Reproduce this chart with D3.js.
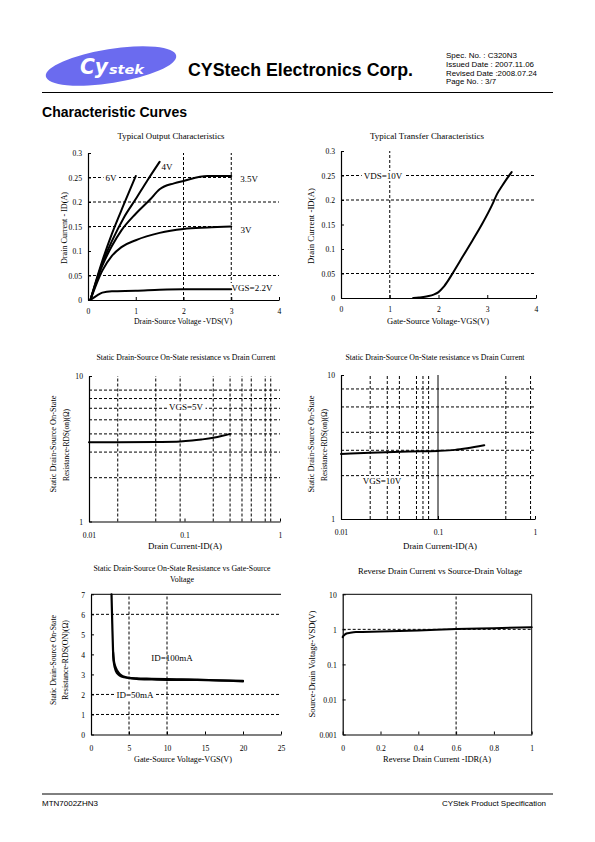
<!DOCTYPE html>
<html><head><meta charset="utf-8">
<script src="https://cdn.jsdelivr.net/npm/d3@7"></script>
<style>body{margin:0;background:#fff}</style>
</head><body>
<svg id="page" width="595" height="842" xmlns="http://www.w3.org/2000/svg"></svg>
<script>
// ---------- DATA ----------
// Chart 1: Typical Output Characteristics  [VDS, ID]
const outXTicks = [0, 1, 2, 3, 4];
const outYTicks = [0, 0.05, 0.1, 0.15, 0.2, 0.25, 0.3];
const outYTickLabels = ["0", "0.05", "0.1", "0.15", "0.2", "0.25", "0.3"];
const outVGS22 = [[0.05,0],[0.2,0.01],[0.3,0.015],[0.5,0.018],[1,0.019],[1.5,0.021],[2,0.022],[3,0.022]];
const outVGS3  = [[0.05,0],[0.3,0.06],[0.5,0.09],[0.7,0.108],[1,0.122],[1.5,0.137],[2,0.145],[2.5,0.148],[3,0.15]];
const outVGS35 = [[0.05,0],[0.3,0.07],[0.5,0.11],[0.7,0.142],[1,0.176],[1.3,0.205],[1.5,0.226],[1.8,0.238],[2,0.243],[2.5,0.253],[3,0.253]];
const outVGS4  = [[0.05,0],[0.3,0.075],[0.5,0.12],[0.75,0.168],[1,0.206],[1.25,0.245],[1.5,0.282]];
const outVGS6  = [[0.05,0],[0.3,0.08],[0.5,0.135],[0.75,0.195],[1,0.253]];
const outSeriesLabels = ["VGS=2.2V", "3V", "3.5V", "4V", "6V"];

// Chart 2: Typical Transfer Characteristics [VGS, ID]
const trXTicks = [0, 1, 2, 3, 4];
const trYTicks = [0, 0.05, 0.1, 0.15, 0.2, 0.25, 0.3];
const trYTickLabels = ["0", "0.05", "0.1", "0.15", "0.2", "0.25", "0.3"];
const trCurve = [[1.48,0],[1.6,0.001],[1.8,0.004],[1.9,0.007],[2.0,0.012],[2.1,0.022],[2.2,0.036],[2.3,0.052],[2.5,0.085],[2.7,0.118],[2.9,0.152],[3.1,0.19],[3.2,0.212],[3.3,0.228],[3.4,0.243],[3.5,0.257]];

// Chart 3: RDS(on) vs ID, VGS=5V (log-log)
const rdsXTicks = [0.01, 0.1, 1];
const rdsXTickLabels = ["0.01", "0.1", "1"];
const rdsYTicks = [1, 10];
const rdsYTickLabels = ["1", "10"];
const rds5XGrid = [0.02, 0.05, 0.09, 0.2, 0.3, 0.4, 0.5, 0.7, 0.8];
const rds5YGrid = [2, 3, 4, 5, 6, 7, 8];
const rds5Curve = [[0.01,3.5],[0.02,3.5],[0.05,3.52],[0.09,3.55],[0.12,3.6],[0.15,3.66],[0.2,3.76],[0.25,3.88],[0.3,4.0]];

// Chart 4: RDS(on) vs ID, VGS=10V (log-log)
const rds10XGrid = [0.02, 0.03, 0.04, 0.06, 0.07, 0.08, 0.5, 0.9];
const rds10XSolid = [0.1];
const rds10YGrid = [2, 3, 4, 6, 8];
const rds10Curve = [[0.01,2.83],[0.02,2.88],[0.05,2.94],[0.1,2.97],[0.15,3.02],[0.2,3.1],[0.3,3.25]];

// Chart 5: RDS(on) vs VGS
const vgsXTicks = [0, 5, 10, 15, 20, 25];
const vgsYTicks = [0, 1, 2, 3, 4, 5, 6, 7];
const vgsXGrid = [5, 10];
const vgsYGrid = [1, 2, 6];
const vgsID100 = [[2.7,7],[2.8,5.5],[2.9,4.2],[3.0,3.7],[3.3,3.3],[3.6,3.1],[4,2.95],[4.5,2.87],[5,2.83],[6,2.8],[8,2.78],[10,2.76],[14,2.74],[17,2.7],[20,2.68]];
const vgsID50  = [[2.9,4.1],[3.0,3.6],[3.3,3.15],[3.6,3.0],[4,2.9],[5,2.82],[6,2.78],[8,2.75],[10,2.73],[14,2.72],[20,2.65]];

// Chart 6: Reverse drain current vs VSD
const revXTicks = [0, 0.2, 0.4, 0.6, 0.8, 1];
const revXTickLabels = ["0", "0.2", "0.4", "0.6", "0.8", "1"];
const revYTicks = [0.001, 0.01, 0.1, 1, 10];
const revYTickLabels = ["0.001", "0.01", "0.1", "1", "10"];
const revXGrid = [0.6];
const revYGrid = [1];
const revCurve = [[0,0.6],[0.005,0.66],[0.01,0.7],[0.02,0.76],[0.04,0.8],[0.07,0.84],[0.2,0.87],[0.4,0.93],[0.6,1.02],[0.8,1.08],[1,1.15]];

// ---------- DRAWING ----------
const svg = d3.select("#page");
const SERIF = "Liberation Serif, Times New Roman, serif";
const SANS = "Liberation Sans, Arial, sans-serif";

function txt(g, x, y, s, o = {}) {
  const t = g.append("text").attr("x", x).attr("y", y).text(s)
    .attr("font-family", o.family || SERIF).attr("font-size", o.size || 9)
    .attr("text-anchor", o.anchor || "middle").attr("fill", "#000");
  if (o.weight) t.attr("font-weight", o.weight);
  if (o.style) t.attr("font-style", o.style);
  if (o.width) t.attr("textLength", o.width).attr("lengthAdjust", "spacingAndGlyphs");
  if (o.rotate) t.attr("transform", `rotate(-90 ${x} ${y})`);
  if (o.fill) t.attr("fill", o.fill);
  if (o.bg) {
    const b = t.node().getBBox();
    const x1 = o.bgX1 !== undefined ? o.bgX1 : b.x - 2;
    const x2 = o.bgX2 !== undefined ? o.bgX2 : b.x + b.width + 2;
    g.insert("rect", () => t.node()).attr("x", x1).attr("y", b.y).attr("width", x2 - x1)
      .attr("height", b.height).attr("fill", "#fff");
  }
  return t;
}

function styleAxis(a) {
  a.select(".domain").attr("stroke", "#000").attr("stroke-width", 1.2);
  a.selectAll(".tick line").attr("stroke", "#000");
  a.selectAll("text").attr("font-family", SERIF).attr("font-size", 9).attr("fill", "#000")
    .each(function () {
      const len = this.getComputedTextLength();
      if (len > 0) d3.select(this).attr("textLength", len * 0.85).attr("lengthAdjust", "spacingAndGlyphs");
    });
}

function hGrid(g, x, y, vals, dashed = true) {
  g.selectAll(null).data(vals).enter().append("line")
    .attr("x1", x.range()[0]).attr("x2", x.range()[1])
    .attr("y1", d => y(d)).attr("y2", d => y(d))
    .attr("stroke", "#000").attr("stroke-width", 1)
    .attr("stroke-dasharray", dashed ? "3,2" : null);
}
function vGrid(g, x, y, vals, dashed = true) {
  g.selectAll(null).data(vals).enter().append("line")
    .attr("y1", y.range()[0]).attr("y2", y.range()[1])
    .attr("x1", d => x(d)).attr("x2", d => x(d))
    .attr("stroke", "#000").attr("stroke-width", 1)
    .attr("stroke-dasharray", dashed ? "3,2" : null);
}
function curve(g, x, y, data, w = 2) {
  const line = d3.line().x(d => x(d[0])).y(d => y(d[1])).curve(d3.curveMonotoneX);
  g.append("path").datum(data).attr("d", line).attr("fill", "none")
    .attr("stroke", "#000").attr("stroke-width", w).attr("stroke-linejoin", "round").attr("stroke-linecap", "round");
}
function axes(g, x, y, o) {
  const y0 = y.range()[0], x0 = x.range()[0];
  const ax = d3.axisBottom(x).tickValues(o.xt).tickSizeInner(-3).tickSizeOuter(0).tickPadding(o.xpad || 8);
  if (o.xl) ax.tickFormat((d, i) => o.xl[i]); else ax.tickFormat(d => d);
  const ay = d3.axisLeft(y).tickValues(o.yt).tickSizeInner(-3).tickSizeOuter(0).tickPadding(6);
  if (o.yl) ay.tickFormat((d, i) => o.yl[i]); else ay.tickFormat(d => d);
  styleAxis(g.append("g").attr("transform", `translate(0,${y0})`).call(ax));
  styleAxis(g.append("g").attr("transform", `translate(${x0},0)`).call(ay));
}

// ---- Header ----
const hdr = svg.append("g");
hdr.append("ellipse").attr("cx", 111).attr("cy", 66).attr("rx", 66).attr("ry", 17)
  .attr("transform", "rotate(-9 111 66)").attr("fill", "#6b6bef");
txt(hdr, 80, 74, "Cy", {family: "DejaVu Sans", size: 21, weight: "bold", style: "italic", anchor: "start", fill: "#fff", width: 28});
txt(hdr, 109, 74, "stek", {family: "DejaVu Sans", size: 13, weight: "bold", style: "italic", anchor: "start", fill: "#fff", width: 35});
txt(hdr, 188, 76, "CYStech Electronics Corp.", {family: SANS, size: 18, weight: "bold", anchor: "start", width: 225});
txt(hdr, 446, 58, "Spec. No. : C320N3", {family: SANS, size: 8, anchor: "start", width: 71});
txt(hdr, 446, 67, "Issued Date : 2007.11.06", {family: SANS, size: 8, anchor: "start", width: 88});
txt(hdr, 446, 75.5, "Revised Date :2008.07.24", {family: SANS, size: 8, anchor: "start", width: 91});
txt(hdr, 446, 84, "Page No. : 3/7", {family: SANS, size: 8, anchor: "start", width: 50});
hdr.append("line").attr("x1", 42).attr("x2", 553).attr("y1", 92.5).attr("y2", 92.5).attr("stroke", "#000").attr("stroke-width", 1.2);
txt(hdr, 42, 117, "Characteristic Curves", {family: SANS, size: 14, weight: "bold", anchor: "start", width: 145});

// ---- Footer ----
svg.append("line").attr("x1", 42).attr("x2", 553).attr("y1", 794).attr("y2", 794).attr("stroke", "#000").attr("stroke-width", 1);
txt(svg, 42, 806, "MTN7002ZHN3", {family: SANS, size: 7.5, anchor: "start", width: 56});
txt(svg, 546, 806, "CYStek Product Specification", {family: SANS, size: 7.5, anchor: "end", width: 104});

// ---- Chart 1 ----
{
  const g = svg.append("g");
  const x = d3.scaleLinear().domain([0, 4]).range([88, 279]);
  const y = d3.scaleLinear().domain([0, 0.3]).range([300, 153]);
  hGrid(g, x, y, [0.05, 0.15, 0.2, 0.25]);
  vGrid(g, x, y, [2, 3]);
  axes(g, x, y, {xt: outXTicks, yt: outYTicks, yl: outYTickLabels, xpad: 8});
  txt(g, 252, 291, outSeriesLabels[0], {bg: true});
  txt(g, 246, 233, outSeriesLabels[1], {bg: true, bgX1: x(3) + 1.5, bgX2: x(4) + 1});
  txt(g, 249, 182, outSeriesLabels[2], {bg: true, bgX1: x(3) + 1.5, bgX2: x(4) + 1});
  txt(g, 167, 170, outSeriesLabels[3]);
  txt(g, 111, 181, outSeriesLabels[4], {bg: true});
  [outVGS22, outVGS3, outVGS35, outVGS4, outVGS6].forEach(d => curve(g, x, y, d));
  txt(g, 171, 139, "Typical Output Characteristics", {width: 107});
  txt(g, 183, 324, "Drain-Source Voltage -VDS(V)", {width: 98});
  txt(g, 67, 228, "Drain Current - ID(A)", {rotate: true, width: 72});
}

// ---- Chart 2 ----
{
  const g = svg.append("g");
  const x = d3.scaleLinear().domain([0, 4]).range([341, 536]);
  const y = d3.scaleLinear().domain([0, 0.3]).range([298, 151]);
  hGrid(g, x, y, [0.05, 0.2, 0.25]);
  vGrid(g, x, y, [1]);
  axes(g, x, y, {xt: trXTicks, yt: trYTicks, yl: trYTickLabels, xpad: 8});
  curve(g, x, y, trCurve);
  txt(g, 383, 179, "VDS=10V", {bg: true});
  txt(g, 427, 139, "Typical Transfer Characteristics", {width: 114});
  txt(g, 438, 324, "Gate-Source Voltage-VGS(V)", {width: 102});
  txt(g, 314, 226, "Drain Current -ID(A)", {rotate: true, width: 76});
}

// ---- Chart 3 ----
{
  const g = svg.append("g");
  const x = d3.scaleLog().domain([0.01, 1]).range([89, 280]);
  const y = d3.scaleLog().domain([1, 10]).range([521.5, 376]);
  hGrid(g, x, y, rds5YGrid);
  vGrid(g, x, y, rds5XGrid);
  axes(g, x, y, {xt: rdsXTicks, xl: rdsXTickLabels, yt: rdsYTicks, yl: rdsYTickLabels, xpad: 10});
  curve(g, x, y, rds5Curve);
  txt(g, 186, 410, "VGS=5V", {bg: true});
  txt(g, 186, 360, "Static Drain-Source On-State resistance vs Drain Current", {size: 8.5, width: 179});
  txt(g, 185, 549, "Drain Current-ID(A)", {width: 74});
  txt(g, 56, 444, "Static Drain-Source On-State", {rotate: true, width: 97});
  txt(g, 69, 445, "Resistance-RDS(on)(Ω)", {rotate: true, width: 72});
}

// ---- Chart 4 ----
{
  const g = svg.append("g");
  const x = d3.scaleLog().domain([0.01, 1]).range([341, 535]);
  const y = d3.scaleLog().domain([1, 10]).range([519, 375]);
  hGrid(g, x, y, rds10YGrid);
  vGrid(g, x, y, rds10XGrid);
  vGrid(g, x, y, rds10XSolid, false);
  axes(g, x, y, {xt: rdsXTicks, xl: rdsXTickLabels, yt: rdsYTicks, yl: rdsYTickLabels, xpad: 10});
  curve(g, x, y, rds10Curve);
  txt(g, 382, 484, "VGS=10V", {bg: true});
  txt(g, 435, 360, "Static Drain-Source On-State resistance vs Drain Current", {size: 8.5, width: 179});
  txt(g, 440, 549, "Drain Current-ID(A)", {width: 74});
  txt(g, 314, 444, "Static Drain-Source On-State", {rotate: true, width: 97});
  txt(g, 327, 445, "Resistance-RDS(on)(Ω)", {rotate: true, width: 72});
}

// ---- Chart 5 ----
{
  const g = svg.append("g");
  const x = d3.scaleLinear().domain([0, 25]).range([91, 281]);
  const y = d3.scaleLinear().domain([0, 7]).range([734.5, 594.3]);
  hGrid(g, x, y, vgsYGrid);
  vGrid(g, x, y, vgsXGrid);
  hGrid(g, x, y, [7], false);
  axes(g, x, y, {xt: vgsXTicks, yt: vgsYTicks, xpad: 10});
  curve(g, x, y, vgsID100, 2.2);
  curve(g, x, y, vgsID50, 2.2);
  txt(g, 172, 661, "ID=100mA");
  txt(g, 135, 698, "ID=50mA", {bg: true});
  txt(g, 182, 571, "Static Drain-Source On-State Resistance vs Gate-Source", {size: 8.5, width: 177});
  txt(g, 182, 582, "Voltage", {size: 8.5, width: 24});
  txt(g, 183, 762, "Gate-Source Voltage-VGS(V)", {width: 98});
  txt(g, 56, 660, "Static Drain-Source On-State", {rotate: true, width: 90});
  txt(g, 68, 660, "Resistance-RDS(ON)(Ω)", {rotate: true, width: 80});
}

// ---- Chart 6 ----
{
  const g = svg.append("g");
  const x = d3.scaleLinear().domain([0, 1]).range([342.7, 531.7]);
  const y = d3.scaleLog().domain([0.001, 10]).range([734.5, 594.3]);
  hGrid(g, x, y, revYGrid);
  vGrid(g, x, y, revXGrid);
  hGrid(g, x, y, [10], false);
  vGrid(g, x, y, [1], false);
  axes(g, x, y, {xt: revXTicks, xl: revXTickLabels, yt: revYTicks, yl: revYTickLabels, xpad: 10});
  curve(g, x, y, revCurve);
  txt(g, 440, 574, "Reverse Drain Current vs Source-Drain Voltage", {size: 8.5, width: 164});
  txt(g, 437, 762, "Reverse Drain Current -IDR(A)", {width: 108});
  txt(g, 315, 664, "Source-Drain Voltage-VSD(V)", {rotate: true, width: 107});
}
</script>
</body></html>
